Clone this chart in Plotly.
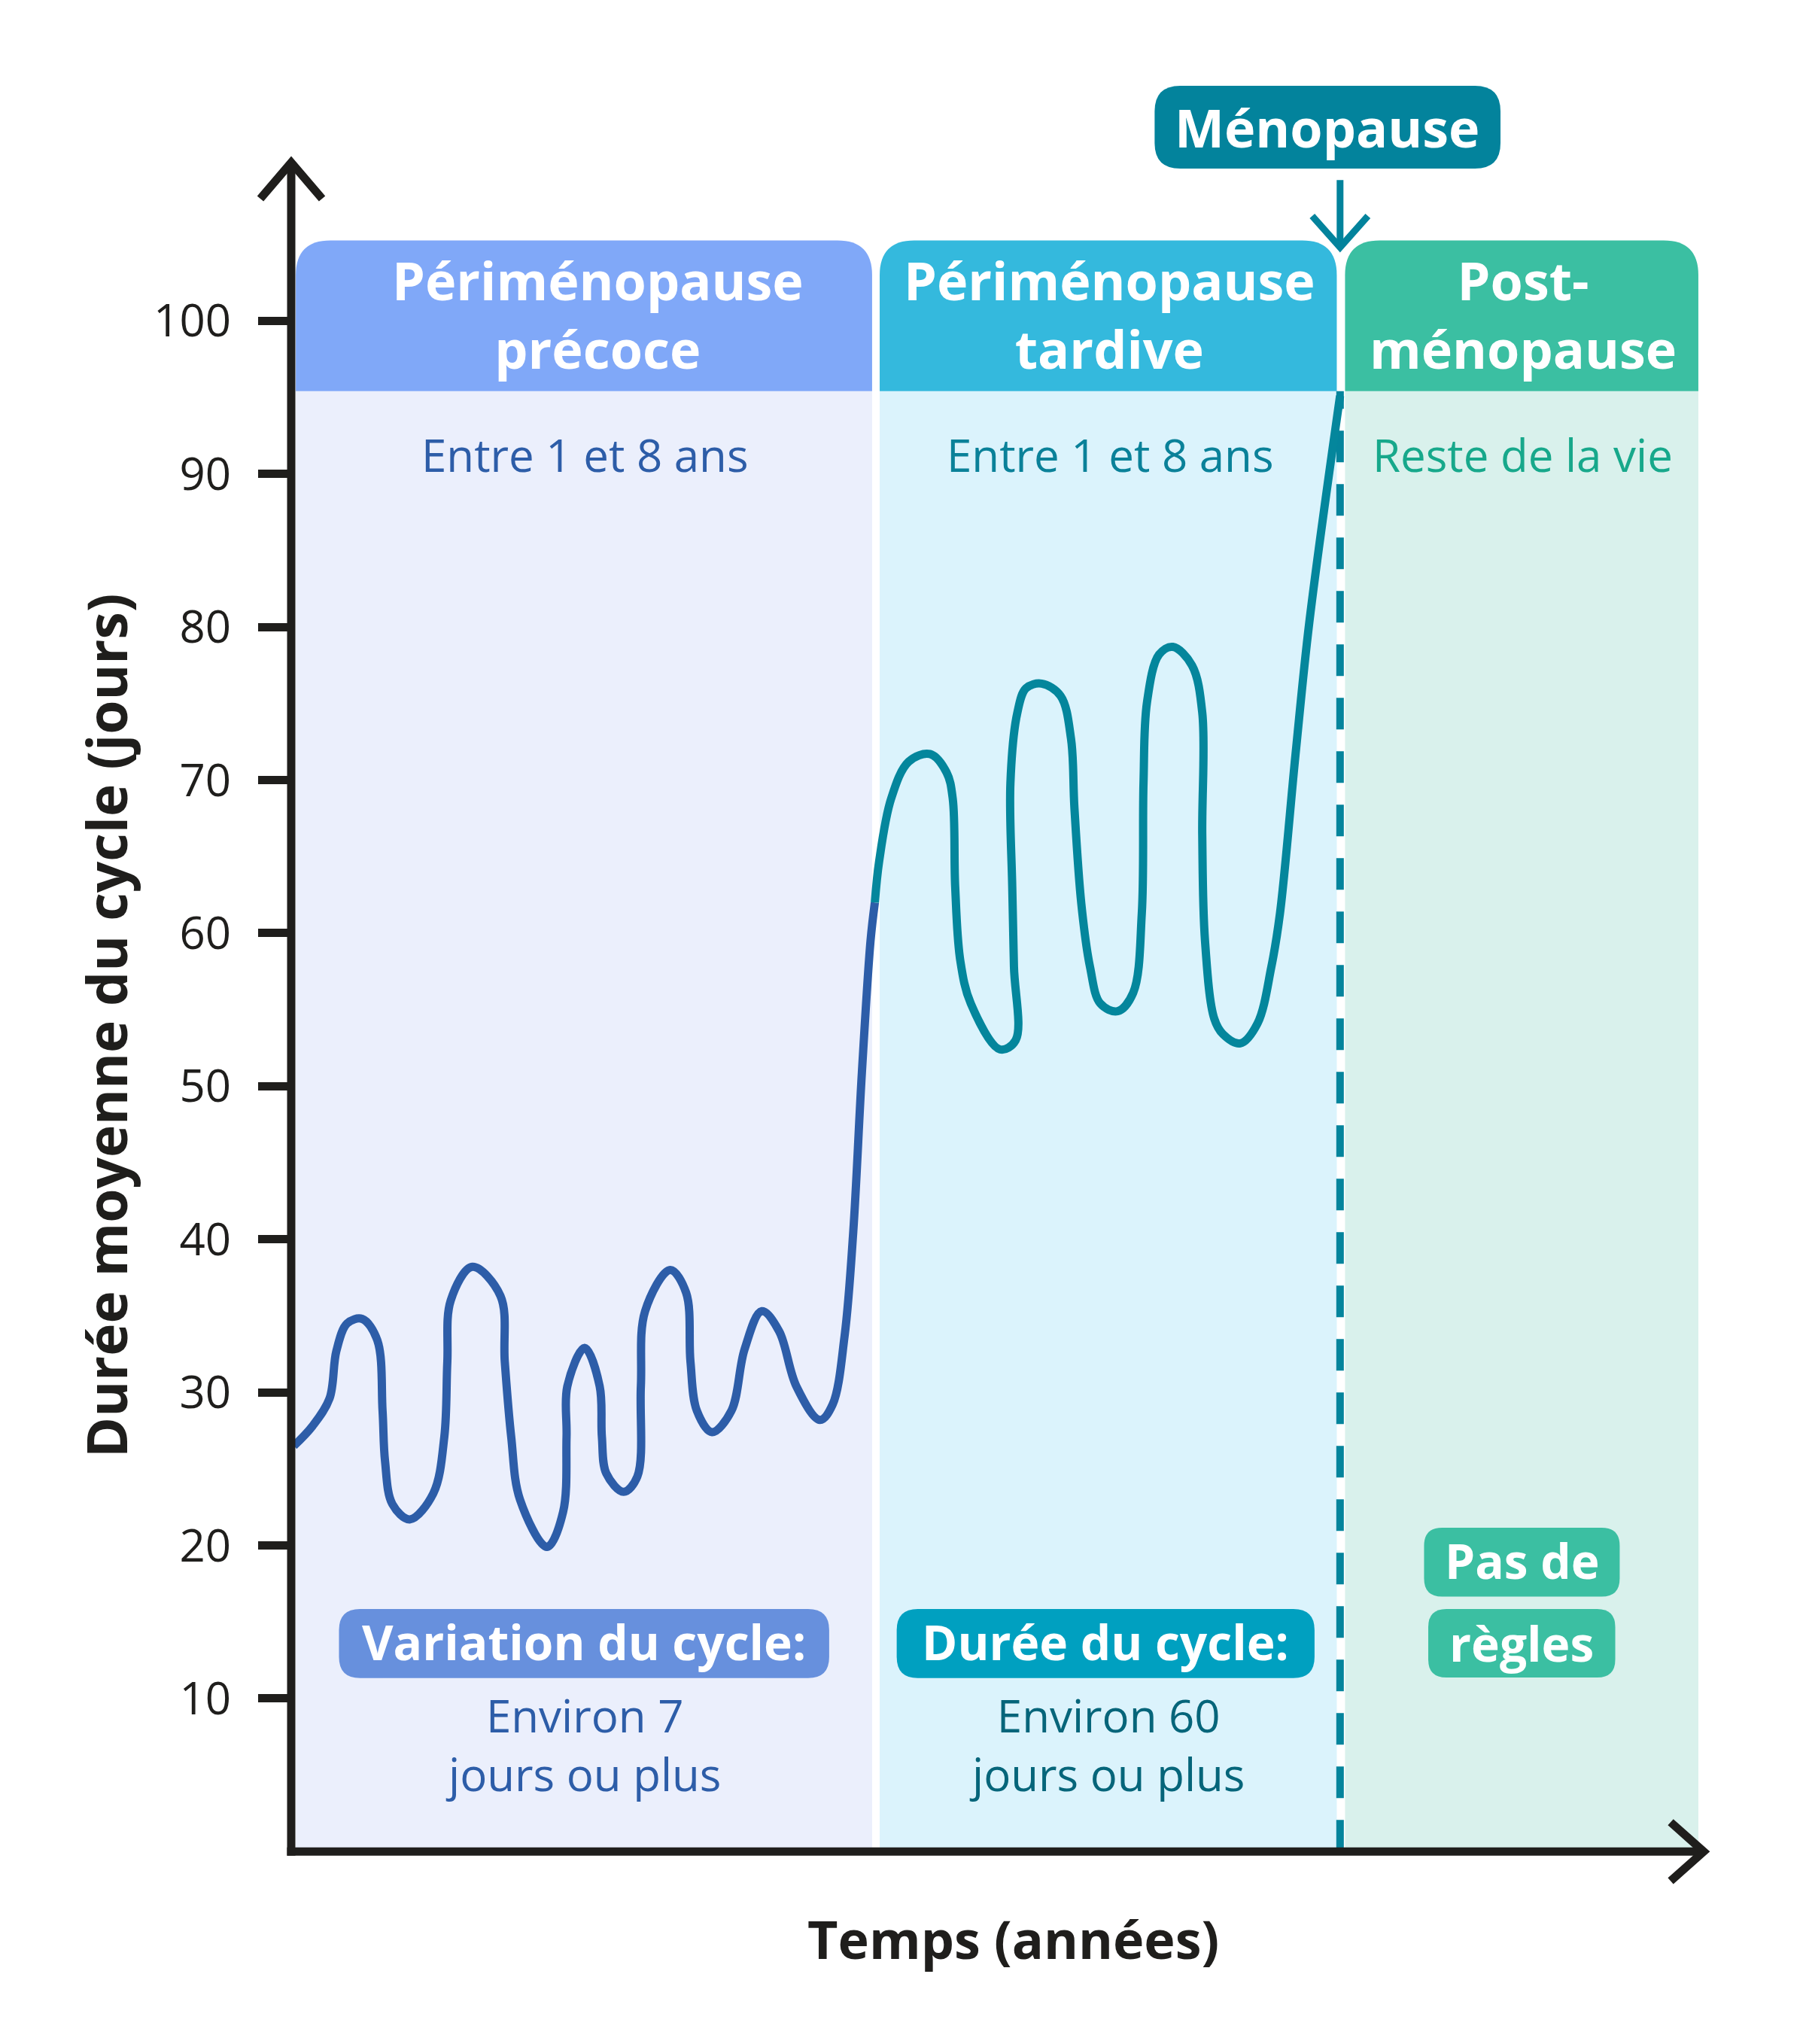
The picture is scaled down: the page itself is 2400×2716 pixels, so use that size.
import plotly.graph_objects as go

# --- Données ---
# Courbe pendant la périménopause précoce (temps, durée du cycle en jours)
x_precoce = [0.2, 1.63, 2.93, 3.45, 4.27, 5.42, 6.58, 6.98, 7.17, 7.73, 9.06, 10.86, 11.70, 11.93,
             12.19, 13.84, 15.99, 16.32, 16.81, 17.48, 19.55, 20.78, 21.04, 21.1, 22.42, 23.57,
             23.74, 24.08, 25.4, 26.45, 26.72, 27.04, 28.96, 30.18, 30.51, 31.0, 32.16, 33.64,
             34.64, 35.96, 37.28, 38.6, 40.4, 41.37, 42.29, 42.95, 43.61, 44.27, 44.6]
y_precoce = [26.5, 27.8, 29.6, 32.7, 34.5, 34.8, 33.4, 28.8, 25.5, 22.7, 21.7, 23.4, 27.1, 32.0,
             36.0, 38.2, 36.3, 32.0, 27.1, 23.0, 19.9, 22.2, 27.1, 30.4, 32.9, 30.4,
             27.1, 24.7, 23.5, 24.5, 30.4, 35.3, 38.0, 36.5, 32.0, 28.8, 27.4, 28.8,
             32.8, 35.3, 34.0, 30.4, 28.2, 29.2, 33.7, 40.5, 50.9, 59.5, 62.0]

# Courbe pendant la périménopause tardive
x_tardive = [44.6, 44.93, 45.85, 47.18, 48.81, 50.08, 50.55, 50.74, 51.13, 51.93, 54.17, 55.36,
             55.23, 55.1, 54.96, 55.49, 56.15, 57.34, 58.79, 59.59, 59.85, 60.38, 61.04, 61.83,
             63.15, 64.34, 65.0, 65.13, 65.4, 66.32, 67.37, 68.83, 69.62, 69.62, 69.83, 70.54,
             71.2, 72.52, 73.84, 74.9, 75.56, 76.75, 77.8, 80.15]
y_tardive = [62.0, 64.7, 68.8, 71.2, 71.7, 70.5, 68.8, 63.0, 58.2, 55.4, 52.4, 53.0,
             57.8, 63.0, 69.8, 74.4, 76.0, 76.3, 75.5, 72.7, 68.2, 61.9, 57.8, 55.4,
             54.9, 56.1, 61.3, 69.8, 75.1, 78.2, 78.7, 77.5, 74.4, 66.4, 59.5, 54.4,
             53.4, 52.8, 54.1, 57.8, 61.3, 71.7, 80.3, 95.1]

tick_vals = [10, 20, 30, 40, 50, 60, 70, 80, 90, 100]

# Phases : début / fin sur l'axe du temps
phase_debut = [0.35, 44.97, 80.53]
phase_fin = [44.39, 79.9, 107.53]
phase_titres = ["Périménopause<br>précoce", "Périménopause<br>tardive", "Post-<br>ménopause"]
phase_durees = ["Entre 1 et 8 ans", "Entre 1 et 8 ans", "Reste de la vie"]
menopause_x = 80.15

FONT = "Open Sans"
DARK = "#1F1E1C"
header_colors = ["#80A8F8", "#34B9DD", "#3BBFA2"]
body_colors = ["#EBEFFC", "#DBF3FC", "#D9F1EC"]
duree_colors = ["#2D5DA8", "#0A8199", "#17A88B"]

# calage pixels <-> unités
X0_PX, Y0_PX = 379, 2452.3
PX_X, PX_Y = 17.39, 20.34
W, H = 2400, 2716


def rounded(x0, x1, y0, y1, r, top_only=False):
    rx, ry = r / PX_X, r / PX_Y
    if top_only:
        return (f"M{x0},{y0} L{x0},{y1-ry} Q{x0},{y1} {x0+rx},{y1} "
                f"L{x1-rx},{y1} Q{x1},{y1} {x1},{y1-ry} L{x1},{y0} Z")
    return (f"M{x0},{y0+ry} L{x0},{y1-ry} Q{x0},{y1} {x0+rx},{y1} "
            f"L{x1-rx},{y1} Q{x1},{y1} {x1},{y1-ry} L{x1},{y0+ry} "
            f"Q{x1},{y0} {x1-rx},{y0} L{x0+rx},{y0} Q{x0},{y0} {x0},{y0+ry} Z")


fig = go.Figure()

# panneaux des phases
for i in range(3):
    x0, x1 = phase_debut[i], phase_fin[i]
    fig.add_shape(type="rect", x0=x0, x1=x1, y0=0, y1=95.4, fillcolor=body_colors[i],
                  line_width=0, layer="below")
    fig.add_shape(type="path", path=rounded(x0, x1, 95.4, 105.25, 46, top_only=True),
                  fillcolor=header_colors[i], line_width=0, layer="below")

# ligne ménopause
fig.add_shape(type="line", x0=menopause_x, x1=menopause_x, y0=0, y1=95.4,
              line=dict(color="#04849C", width=10, dash="42px,29px"), layer="below")

fig.add_trace(go.Scatter(x=x_precoce, y=y_precoce, mode="lines", hoverinfo="skip",
                         line=dict(color="#2D5DA8", width=11, shape="spline", smoothing=1)))
fig.add_trace(go.Scatter(x=x_tardive, y=y_tardive, mode="lines", hoverinfo="skip",
                         line=dict(color="#04869C", width=11, shape="spline", smoothing=1)))

# axes avec flèches
axe = dict(color=DARK, width=11)
fig.add_shape(type="line", x0=-0.32, x1=107.94, y0=0, y1=0, line=axe)
fig.add_shape(type="line", x0=0, x1=0, y0=-0.27, y1=110.34, line=axe)
fig.add_shape(type="path", path="M-2.36,107.98 L0,110.34 L2.36,107.98", line=axe)
fig.add_shape(type="path", path="M105.41,1.92 L107.94,0 L105.41,-1.92", line=axe)

# étiquette ménopause + flèche
fig.add_shape(type="path", path=rounded(65.98, 92.41, 109.95, 115.35, 34),
              fillcolor="#03839C", line_width=0)
fleche = dict(color="#03839C", width=9)
fig.add_shape(type="line", x0=menopause_x, x1=menopause_x, y0=104.85, y1=109.2, line=fleche)
fig.add_shape(type="path", path=f"M{menopause_x-2.13},106.85 L{menopause_x},104.8 L{menopause_x+2.13},106.85",
              line=fleche)


def txt(x, y, s, size, color, bold=False, **kw):
    fig.add_annotation(x=x, y=y, xref="x", yref="y", text=f"<b>{s}</b>" if bold else s,
                       showarrow=False, xanchor="center", yanchor="middle",
                       font=dict(family=FONT, size=size, color=color), **kw)


txt(79.18, 112.65, "Ménopause", 70, "white", bold=True)

title_x = [23.43, 62.56, 94.13]
duree_x = [22.48, 62.62, 94.08]
for i in range(3):
    txt(title_x[i], 100.43, phase_titres[i], 70, "white", bold=True)
    txt(duree_x[i], 91.28, phase_durees[i], 60, duree_colors[i])

# encadrés du bas
fig.add_shape(type="path", path=rounded(3.65, 41.11, 11.34, 15.85, 28), fillcolor="#6790DD", line_width=0)
fig.add_shape(type="path", path=rounded(46.27, 78.2, 11.34, 15.85, 28), fillcolor="#00A0C0", line_width=0)
fig.add_shape(type="path", path=rounded(86.57, 101.52, 16.66, 21.16, 24), fillcolor="#3BBFA2", line_width=0)
fig.add_shape(type="path", path=rounded(86.89, 101.18, 11.37, 15.85, 24), fillcolor="#3BBFA2", line_width=0)
txt(22.37, 13.7, "Variation du cycle:", 64, "white", bold=True)
txt(62.22, 13.7, "Durée du cycle:", 64, "white", bold=True)
txt(94.05, 19.0, "Pas de", 64, "white", bold=True)
txt(94.03, 13.6, "règles", 64, "white", bold=True)
txt(22.3, 6.98, "Environ 7<br>jours ou plus", 60, "#2D5DA8")
txt(62.35, 6.98, "Environ 60<br>jours ou plus", 60, "#06657A")

# titres des axes
txt(-14.15, 53.95, "Durée moyenne du cycle (jours)", 73, DARK, bold=True, textangle=-90)
txt(55.2, -5.69, "Temps (années)", 70, DARK, bold=True)

fig.update_layout(
    width=W, height=H,
    margin=dict(l=0, r=0, t=0, b=0),
    plot_bgcolor="white", paper_bgcolor="white",
    showlegend=False,
    xaxis=dict(range=[-X0_PX / PX_X, (W - X0_PX) / PX_X], visible=False, fixedrange=True),
    yaxis=dict(range=[-(H - Y0_PX) / PX_Y, Y0_PX / PX_Y], anchor="free", position=X0_PX / W,
               tickvals=tick_vals, ticks="outside", ticklen=44, tickwidth=11, tickcolor=DARK,
               showgrid=False, zeroline=False, showline=False, ticklabelstandoff=24,
               tickfont=dict(family=FONT, size=60, color=DARK), fixedrange=True),
)

fig.write_html("out.html")
